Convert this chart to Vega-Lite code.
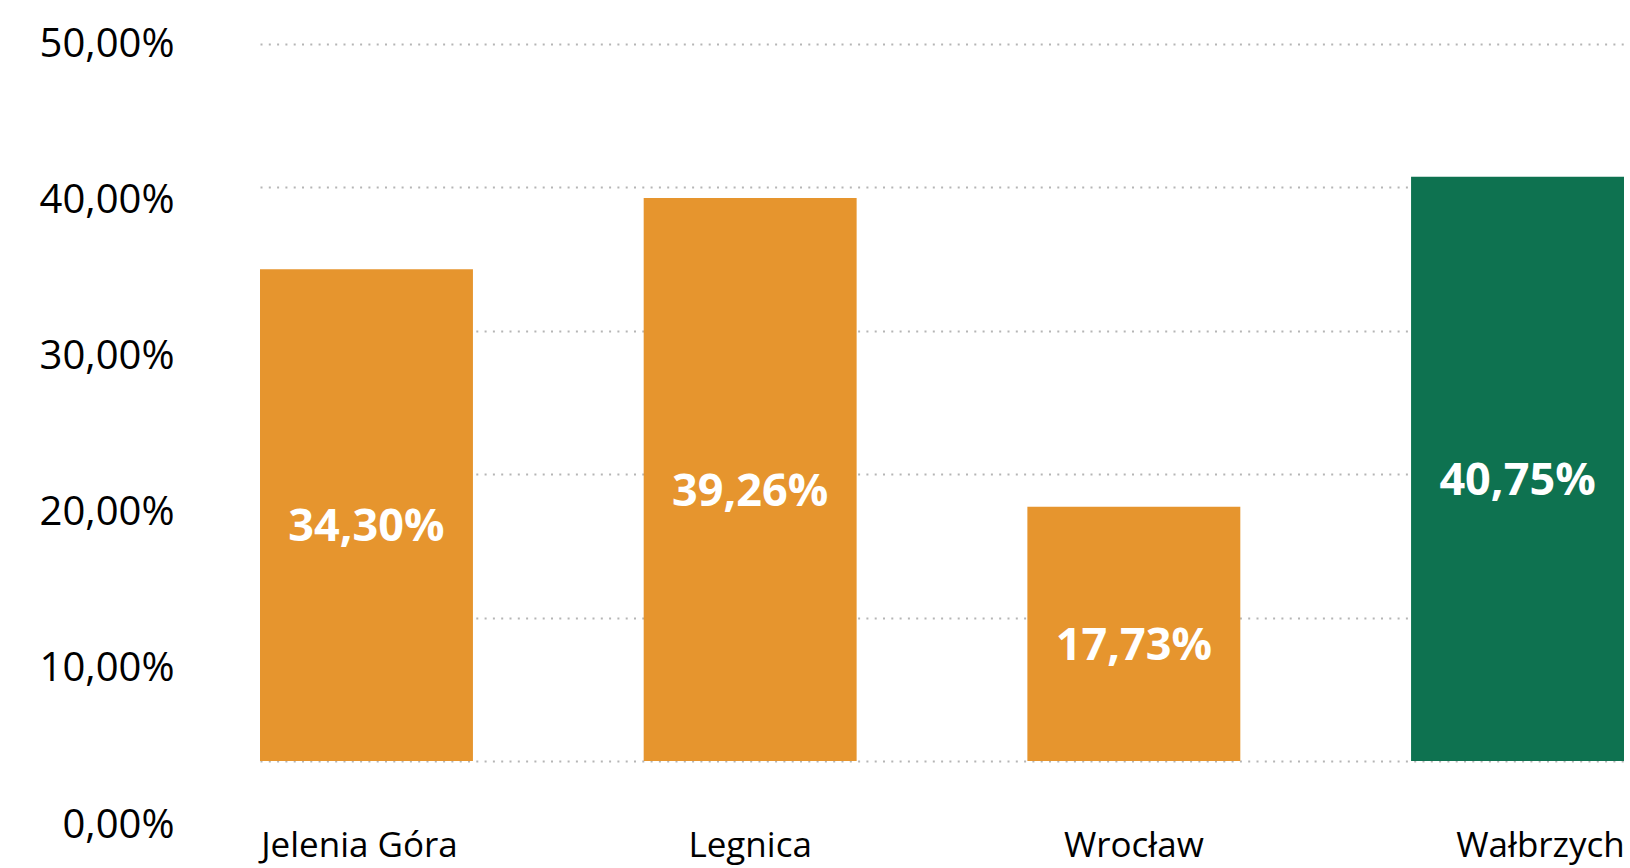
{
  "$schema": "https://vega.github.io/schema/vega-lite/v6.json",
  "width": 1364,
  "height": 781,
  "autosize": {"type": "none"},
  "padding": {"left": 260, "top": 44, "right": 6, "bottom": 43},
  "background": "white",
  "config": {"view": {"stroke": null}, "font": "Open Sans"},
  "data": {
    "values": [
      {"city": "Jelenia Góra", "value": 34.30, "label": "34,30%"},
      {"city": "Legnica", "value": 39.26, "label": "39,26%"},
      {"city": "Wrocław", "value": 17.73, "label": "17,73%"},
      {"city": "Wałbrzych", "value": 40.75, "label": "40,75%"}
    ]
  },
  "encoding": {
    "x": {
      "field": "city",
      "type": "nominal",
      "sort": null,
      "scale": {"paddingInner": 0.445, "paddingOuter": 0},
      "axis": {
        "title": null,
        "domain": false,
        "ticks": false,
        "tickSize": 0,
        "grid": false,
        "labelAngle": 0,
        "labelLimit": 0,
        "labelFont": "Open Sans",
        "labelFontSize": 35,
        "labelColor": "#000000",
        "labelBaseline": "alphabetic",
        "labelPadding": 31,
        "labelOffset": {
          "condition": [
            {"test": "datum.value == 'Wałbrzych'", "value": 23},
            {"test": "datum.value == 'Jelenia Góra'", "value": -7}
          ],
          "value": 0
        }
      }
    }
  },
  "layer": [
    {
      "mark": {"type": "bar"},
      "encoding": {
        "y": {
          "field": "value",
          "type": "quantitative",
          "scale": {"domain": [-4.463, 50], "nice": false, "zero": false},
          "axis": {
            "orient": "left",
            "title": null,
            "labels": false,
            "ticks": false,
            "domain": false,
            "grid": true,
            "values": [0, 10, 20, 30, 40, 50],
            "gridColor": "#B5B5B5",
            "gridWidth": 2,
            "gridDash": [2, 6.3]
          }
        },
        "y2": {"datum": 0},
        "color": {
          "field": "city",
          "type": "nominal",
          "scale": {
            "domain": ["Jelenia Góra", "Legnica", "Wrocław", "Wałbrzych"],
            "range": ["#E6952E", "#E6952E", "#E6952E", "#0E7250"]
          },
          "legend": null
        }
      }
    },
    {
      "mark": {
        "type": "text",
        "color": "white",
        "font": "Open Sans",
        "fontSize": 45,
        "fontWeight": "bold",
        "align": "center",
        "baseline": "middle",
        "dy": 12
      },
      "encoding": {
        "y": {
          "field": "value",
          "type": "quantitative",
          "scale": {"domain": [-8.926, 100], "nice": false, "zero": false},
          "axis": null
        },
        "text": {"field": "label"}
      }
    },
    {
      "mark": {"type": "tick", "opacity": 0},
      "encoding": {
        "y": {
          "field": "value",
          "type": "quantitative",
          "scale": {"domain": [0, 50.064], "nice": false, "zero": false},
          "axis": {
            "orient": "left",
            "title": null,
            "grid": false,
            "domain": false,
            "ticks": false,
            "tickSize": 0,
            "values": [0, 10, 20, 30, 40, 50],
            "labelExpr": "replace(format(datum.value, '.2f'), '.', ',') + '%'",
            "labelFont": "Open Sans",
            "labelFontSize": 40,
            "labelColor": "#000000",
            "labelPadding": 86
          }
        }
      }
    }
  ],
  "resolve": {"scale": {"y": "independent"}}
}
